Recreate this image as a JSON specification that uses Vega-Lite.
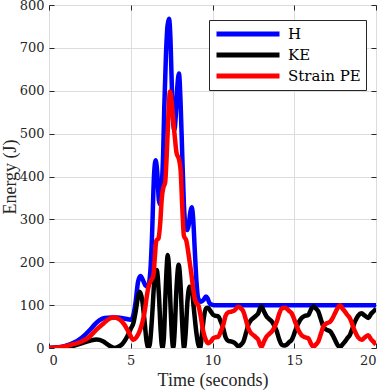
{
  "$schema": "https://vega.github.io/schema/vega-lite/v6.json",
  "width": 327,
  "height": 343,
  "autosize": {"type": "none"},
  "padding": {"left": 49, "top": 5, "right": 10, "bottom": 44},
  "config": {
    "font": "Liberation Serif",
    "view": {"stroke": "#262626", "strokeWidth": 1},
    "axis": {
      "labelFont": "DejaVu Serif",
      "labelFontSize": 13,
      "labelColor": "#262626",
      "titleFont": "Liberation Serif",
      "titleFontSize": 18,
      "titleFontWeight": "normal",
      "titleColor": "#262626",
      "gridColor": "#dcdcdc",
      "gridWidth": 1,
      "domain": false,
      "tickColor": "#262626",
      "tickWidth": 1,
      "tickSize": -5
    },
    "legend": {"labelFont": "DejaVu Serif", "labelFontSize": 15}
  },
  "datasets": {
    "energy": [
      {"s":"H","t":0,"v":0},{"s":"H","t":0.5,"v":1},{"s":"H","t":1,"v":5},{"s":"H","t":1.5,"v":12},{"s":"H","t":2,"v":24},{"s":"H","t":2.5,"v":42},{"s":"H","t":2.8,"v":55},{"s":"H","t":3.1,"v":65},{"s":"H","t":3.4,"v":70},{"s":"H","t":3.8,"v":71},{"s":"H","t":4.2,"v":71},{"s":"H","t":4.6,"v":69},{"s":"H","t":5,"v":66},{"s":"H","t":5.15,"v":75},{"s":"H","t":5.3,"v":108},{"s":"H","t":5.45,"v":155},{"s":"H","t":5.6,"v":168},{"s":"H","t":5.75,"v":158},{"s":"H","t":5.9,"v":146},{"s":"H","t":6.05,"v":143},{"s":"H","t":6.2,"v":180},{"s":"H","t":6.3,"v":260},{"s":"H","t":6.42,"v":400},{"s":"H","t":6.52,"v":438},{"s":"H","t":6.62,"v":410},{"s":"H","t":6.72,"v":345},{"s":"H","t":6.8,"v":335},{"s":"H","t":6.9,"v":380},{"s":"H","t":6.98,"v":450},{"s":"H","t":7.05,"v":560},{"s":"H","t":7.15,"v":680},{"s":"H","t":7.25,"v":752},{"s":"H","t":7.34,"v":768},{"s":"H","t":7.43,"v":720},{"s":"H","t":7.52,"v":600},{"s":"H","t":7.6,"v":525},{"s":"H","t":7.67,"v":508},{"s":"H","t":7.75,"v":540},{"s":"H","t":7.85,"v":610},{"s":"H","t":7.95,"v":640},{"s":"H","t":8.05,"v":570},{"s":"H","t":8.15,"v":450},{"s":"H","t":8.25,"v":335},{"s":"H","t":8.35,"v":285},{"s":"H","t":8.45,"v":275},{"s":"H","t":8.55,"v":288},{"s":"H","t":8.65,"v":318},{"s":"H","t":8.73,"v":328},{"s":"H","t":8.82,"v":300},{"s":"H","t":8.92,"v":225},{"s":"H","t":9.02,"v":155},{"s":"H","t":9.13,"v":115},{"s":"H","t":9.3,"v":108},{"s":"H","t":9.45,"v":112},{"s":"H","t":9.6,"v":120},{"s":"H","t":9.7,"v":116},{"s":"H","t":9.8,"v":106},{"s":"H","t":9.95,"v":101},{"s":"H","t":10.1,"v":100},{"s":"H","t":20,"v":100},

      {"s":"KE","t":0,"v":0},{"s":"KE","t":0.5,"v":0.3},{"s":"KE","t":1,"v":2},{"s":"KE","t":1.5,"v":5},{"s":"KE","t":2,"v":11},{"s":"KE","t":2.5,"v":17},{"s":"KE","t":2.9,"v":20},{"s":"KE","t":3.3,"v":16},{"s":"KE","t":3.6,"v":8},{"s":"KE","t":3.85,"v":2},{"s":"KE","t":4,"v":0},{"s":"KE","t":4.2,"v":2},{"s":"KE","t":4.5,"v":10},{"s":"KE","t":4.8,"v":28},{"s":"KE","t":5,"v":45},{"s":"KE","t":5.16,"v":58},{"s":"KE","t":5.3,"v":85},{"s":"KE","t":5.45,"v":120},{"s":"KE","t":5.55,"v":131},{"s":"KE","t":5.7,"v":112},{"s":"KE","t":5.85,"v":60},{"s":"KE","t":5.97,"v":15},{"s":"KE","t":6.07,"v":0},{"s":"KE","t":6.17,"v":10},{"s":"KE","t":6.3,"v":70},{"s":"KE","t":6.45,"v":160},{"s":"KE","t":6.59,"v":182},{"s":"KE","t":6.72,"v":125},{"s":"KE","t":6.83,"v":40},{"s":"KE","t":6.93,"v":0},{"s":"KE","t":7.02,"v":20},{"s":"KE","t":7.12,"v":120},{"s":"KE","t":7.2,"v":190},{"s":"KE","t":7.26,"v":217},{"s":"KE","t":7.34,"v":185},{"s":"KE","t":7.43,"v":100},{"s":"KE","t":7.53,"v":20},{"s":"KE","t":7.6,"v":0},{"s":"KE","t":7.68,"v":35},{"s":"KE","t":7.8,"v":140},{"s":"KE","t":7.93,"v":194},{"s":"KE","t":8.05,"v":145},{"s":"KE","t":8.15,"v":55},{"s":"KE","t":8.26,"v":0},{"s":"KE","t":8.35,"v":30},{"s":"KE","t":8.47,"v":110},{"s":"KE","t":8.6,"v":143},{"s":"KE","t":8.72,"v":140},{"s":"KE","t":8.85,"v":95},{"s":"KE","t":9,"v":40},{"s":"KE","t":9.12,"v":10},{"s":"KE","t":9.24,"v":0},{"s":"KE","t":9.35,"v":30},{"s":"KE","t":9.47,"v":70},{"s":"KE","t":9.6,"v":92},{"s":"KE","t":9.72,"v":94},{"s":"KE","t":9.9,"v":85},{"s":"KE","t":10.05,"v":77},{"s":"KE","t":10.2,"v":75},{"s":"KE","t":10.36,"v":74},{"s":"KE","t":10.5,"v":62},{"s":"KE","t":10.66,"v":46},{"s":"KE","t":10.8,"v":25},{"s":"KE","t":10.95,"v":17},{"s":"KE","t":11.17,"v":15},{"s":"KE","t":11.35,"v":12},{"s":"KE","t":11.58,"v":4},{"s":"KE","t":11.75,"v":8},{"s":"KE","t":11.89,"v":15},{"s":"KE","t":12.05,"v":35},{"s":"KE","t":12.19,"v":54},{"s":"KE","t":12.35,"v":65},{"s":"KE","t":12.5,"v":70},{"s":"KE","t":12.65,"v":75},{"s":"KE","t":12.8,"v":81},{"s":"KE","t":12.9,"v":92},{"s":"KE","t":13,"v":97},{"s":"KE","t":13.15,"v":85},{"s":"KE","t":13.3,"v":74},{"s":"KE","t":13.45,"v":68},{"s":"KE","t":13.62,"v":62},{"s":"KE","t":13.78,"v":52},{"s":"KE","t":13.93,"v":39},{"s":"KE","t":14.08,"v":20},{"s":"KE","t":14.23,"v":8},{"s":"KE","t":14.4,"v":6},{"s":"KE","t":14.54,"v":8},{"s":"KE","t":14.7,"v":14},{"s":"KE","t":14.84,"v":19},{"s":"KE","t":14.95,"v":28},{"s":"KE","t":15.05,"v":39},{"s":"KE","t":15.25,"v":58},{"s":"KE","t":15.45,"v":70},{"s":"KE","t":15.65,"v":75},{"s":"KE","t":15.86,"v":77},{"s":"KE","t":16,"v":88},{"s":"KE","t":16.17,"v":97},{"s":"KE","t":16.32,"v":92},{"s":"KE","t":16.47,"v":85},{"s":"KE","t":16.62,"v":68},{"s":"KE","t":16.78,"v":50},{"s":"KE","t":17,"v":42},{"s":"KE","t":17.19,"v":39},{"s":"KE","t":17.35,"v":30},{"s":"KE","t":17.49,"v":19},{"s":"KE","t":17.65,"v":7},{"s":"KE","t":17.8,"v":2},{"s":"KE","t":17.95,"v":8},{"s":"KE","t":18.1,"v":15},{"s":"KE","t":18.25,"v":23},{"s":"KE","t":18.41,"v":31},{"s":"KE","t":18.55,"v":45},{"s":"KE","t":18.72,"v":62},{"s":"KE","t":18.9,"v":75},{"s":"KE","t":19.12,"v":81},{"s":"KE","t":19.3,"v":76},{"s":"KE","t":19.53,"v":70},{"s":"KE","t":19.7,"v":80},{"s":"KE","t":19.84,"v":85},{"s":"KE","t":20,"v":92},

      {"s":"Strain PE","t":0,"v":0},{"s":"Strain PE","t":0.5,"v":1},{"s":"Strain PE","t":1,"v":4},{"s":"Strain PE","t":1.5,"v":9},{"s":"Strain PE","t":2,"v":15},{"s":"Strain PE","t":2.5,"v":27},{"s":"Strain PE","t":2.9,"v":43},{"s":"Strain PE","t":3.3,"v":56},{"s":"Strain PE","t":3.6,"v":66},{"s":"Strain PE","t":3.95,"v":72},{"s":"Strain PE","t":4.3,"v":67},{"s":"Strain PE","t":4.6,"v":55},{"s":"Strain PE","t":4.9,"v":35},{"s":"Strain PE","t":5.16,"v":19},{"s":"Strain PE","t":5.35,"v":25},{"s":"Strain PE","t":5.57,"v":42},{"s":"Strain PE","t":5.7,"v":58},{"s":"Strain PE","t":5.85,"v":85},{"s":"Strain PE","t":6,"v":125},{"s":"Strain PE","t":6.1,"v":145},{"s":"Strain PE","t":6.25,"v":158},{"s":"Strain PE","t":6.38,"v":168},{"s":"Strain PE","t":6.48,"v":215},{"s":"Strain PE","t":6.56,"v":250},{"s":"Strain PE","t":6.7,"v":256},{"s":"Strain PE","t":6.8,"v":290},{"s":"Strain PE","t":6.9,"v":350},{"s":"Strain PE","t":7,"v":375},{"s":"Strain PE","t":7.1,"v":385},{"s":"Strain PE","t":7.2,"v":450},{"s":"Strain PE","t":7.3,"v":540},{"s":"Strain PE","t":7.4,"v":598},{"s":"Strain PE","t":7.5,"v":575},{"s":"Strain PE","t":7.6,"v":530},{"s":"Strain PE","t":7.7,"v":490},{"s":"Strain PE","t":7.8,"v":455},{"s":"Strain PE","t":7.95,"v":440},{"s":"Strain PE","t":8.05,"v":415},{"s":"Strain PE","t":8.15,"v":330},{"s":"Strain PE","t":8.25,"v":262},{"s":"Strain PE","t":8.4,"v":250},{"s":"Strain PE","t":8.55,"v":215},{"s":"Strain PE","t":8.7,"v":175},{"s":"Strain PE","t":8.85,"v":130},{"s":"Strain PE","t":9,"v":105},{"s":"Strain PE","t":9.13,"v":100},{"s":"Strain PE","t":9.25,"v":80},{"s":"Strain PE","t":9.44,"v":38},{"s":"Strain PE","t":9.6,"v":18},{"s":"Strain PE","t":9.75,"v":11},{"s":"Strain PE","t":9.9,"v":15},{"s":"Strain PE","t":10.05,"v":23},{"s":"Strain PE","t":10.2,"v":25},{"s":"Strain PE","t":10.36,"v":26},{"s":"Strain PE","t":10.5,"v":38},{"s":"Strain PE","t":10.66,"v":54},{"s":"Strain PE","t":10.8,"v":75},{"s":"Strain PE","t":10.95,"v":83},{"s":"Strain PE","t":11.17,"v":85},{"s":"Strain PE","t":11.35,"v":88},{"s":"Strain PE","t":11.58,"v":96},{"s":"Strain PE","t":11.75,"v":92},{"s":"Strain PE","t":11.89,"v":85},{"s":"Strain PE","t":12.05,"v":65},{"s":"Strain PE","t":12.19,"v":46},{"s":"Strain PE","t":12.35,"v":35},{"s":"Strain PE","t":12.5,"v":30},{"s":"Strain PE","t":12.65,"v":25},{"s":"Strain PE","t":12.8,"v":19},{"s":"Strain PE","t":12.9,"v":8},{"s":"Strain PE","t":13,"v":3},{"s":"Strain PE","t":13.15,"v":15},{"s":"Strain PE","t":13.3,"v":26},{"s":"Strain PE","t":13.45,"v":32},{"s":"Strain PE","t":13.62,"v":38},{"s":"Strain PE","t":13.78,"v":48},{"s":"Strain PE","t":13.93,"v":61},{"s":"Strain PE","t":14.08,"v":80},{"s":"Strain PE","t":14.23,"v":92},{"s":"Strain PE","t":14.4,"v":94},{"s":"Strain PE","t":14.54,"v":92},{"s":"Strain PE","t":14.7,"v":86},{"s":"Strain PE","t":14.84,"v":81},{"s":"Strain PE","t":14.95,"v":72},{"s":"Strain PE","t":15.05,"v":61},{"s":"Strain PE","t":15.25,"v":42},{"s":"Strain PE","t":15.45,"v":30},{"s":"Strain PE","t":15.65,"v":25},{"s":"Strain PE","t":15.86,"v":23},{"s":"Strain PE","t":16,"v":12},{"s":"Strain PE","t":16.17,"v":3},{"s":"Strain PE","t":16.32,"v":8},{"s":"Strain PE","t":16.47,"v":15},{"s":"Strain PE","t":16.62,"v":32},{"s":"Strain PE","t":16.78,"v":50},{"s":"Strain PE","t":17,"v":58},{"s":"Strain PE","t":17.19,"v":61},{"s":"Strain PE","t":17.35,"v":70},{"s":"Strain PE","t":17.49,"v":81},{"s":"Strain PE","t":17.65,"v":93},{"s":"Strain PE","t":17.8,"v":100},{"s":"Strain PE","t":17.95,"v":92},{"s":"Strain PE","t":18.1,"v":85},{"s":"Strain PE","t":18.25,"v":77},{"s":"Strain PE","t":18.41,"v":69},{"s":"Strain PE","t":18.55,"v":55},{"s":"Strain PE","t":18.72,"v":38},{"s":"Strain PE","t":18.9,"v":25},{"s":"Strain PE","t":19.12,"v":19},{"s":"Strain PE","t":19.3,"v":24},{"s":"Strain PE","t":19.53,"v":30},{"s":"Strain PE","t":19.7,"v":20},{"s":"Strain PE","t":19.84,"v":15},{"s":"Strain PE","t":20,"v":8}
    ]
  },
  "data": {"name": "energy"},
  "resolve": {"axis": {"x": "independent", "y": "independent"}},
  "layer": [
    {
      "mark": {"type": "line", "strokeWidth": 4.5, "strokeJoin": "round", "interpolate": "monotone", "clip": true},
      "encoding": {
        "x": {
          "field": "t", "type": "quantitative",
          "scale": {"domain": [0, 20], "nice": false},
          "axis": {"orient": "bottom", "values": [0, 5, 10, 15, 20], "title": "Time (seconds)", "titleY": 37, "titleBaseline": "alphabetic", "grid": true, "labelPadding": 11, "labelFont": "DejaVu Serif", "labelFontSize": 13}
        },
        "y": {
          "field": "v", "type": "quantitative",
          "scale": {"domain": [0, 800], "nice": false},
          "axis": {"orient": "left", "values": [0, 100, 200, 300, 400, 500, 600, 700, 800], "title": "Energy (J)", "titleX": -34, "titleBaseline": "alphabetic", "grid": true, "labelPadding": 10, "labelFont": "DejaVu Serif", "labelFontSize": 13}
        },
        "color": {
          "field": "s", "type": "nominal",
          "scale": {"domain": ["H", "KE", "Strain PE"], "range": ["#0000ff", "#000000", "#ff0000"]},
          "legend": {
            "orient": "none", "legendX": 160, "legendY": 15, "title": null,
            "symbolType": "stroke", "symbolSize": 3969, "symbolStrokeWidth": 5,
            "labelFont": "DejaVu Serif", "labelFontSize": 15, "labelColor": "#000000", "labelOffset": 6,
            "fillColor": "#ffffff", "strokeColor": "#262626", "padding": 5, "rowPadding": 3, "clipHeight": 18
          }
        }
      }
    },
    {
      "mark": {"type": "line", "opacity": 0},
      "encoding": {
        "x": {"field": "t", "type": "quantitative", "scale": {"domain": [0, 20], "nice": false},
              "axis": {"orient": "top", "values": [0, 5, 10, 15, 20], "labels": false, "title": null, "grid": false}},
        "y": {"field": "v", "type": "quantitative", "scale": {"domain": [0, 800], "nice": false},
              "axis": {"orient": "right", "values": [0, 100, 200, 300, 400, 500, 600, 700, 800], "labels": false, "title": null, "grid": false}}
      }
    }
  ]
}
